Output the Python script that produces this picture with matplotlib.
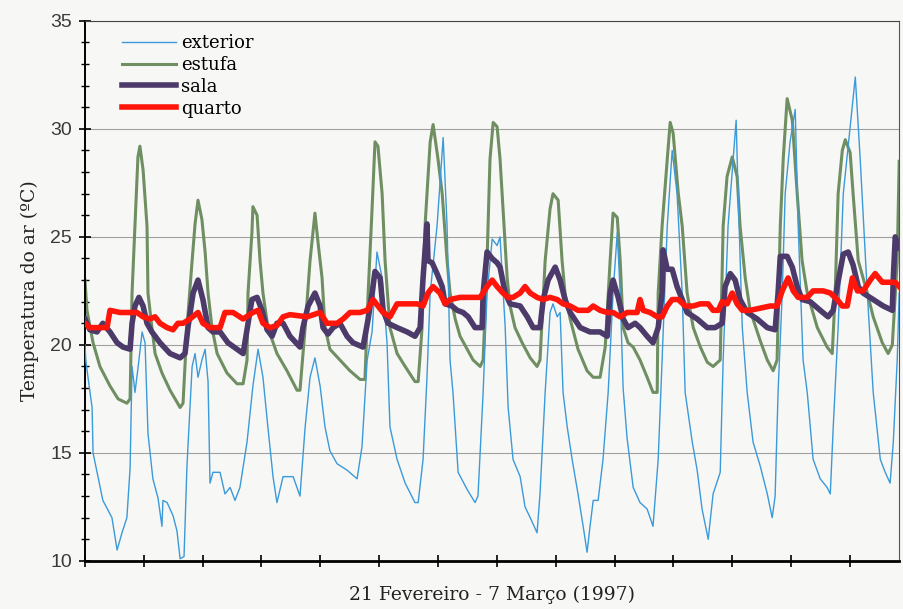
#!/usr/bin/env python3
"""
plot.py
Temperatura do ar: exterior, estufa, sala e quarto (21 Fev - 7 Mar 1997).
"""

import matplotlib.pyplot as plt
from matplotlib.ticker import MultipleLocator, NullFormatter

# -----------------------------
# Data (hours since start, degC)
# -----------------------------
ext_h = [0, 0.4, 2.9, 3.3, 7.3, 11.0, 13.1, 15.1, 17.1, 18.4, 19.2, 20.4, 21.6, 23.3, 24.5, 25.7,
         27.7, 29.8, 31.4, 31.8, 33.5, 35.9, 37.5, 38.8, 40.4, 41.6, 43.7, 44.9, 46.1, 47.7, 49.0,
         50.2, 51.0, 52.2, 55.1, 57.1, 59.2, 61.2, 63.2, 66.1, 68.5, 70.6, 72.6, 74.6, 76.7, 78.3,
         80.8, 84.9, 87.7, 89.8, 91.8, 93.8, 95.9, 97.9, 99.9, 102.8, 106.9, 111.0, 113.0, 115.1,
         117.1, 119.1, 121.2, 123.2, 124.4, 127.3, 130.6, 134.6, 135.9, 137.9, 139.5, 140.8, 143.6,
         146.1, 147.7, 148.9, 150.1, 152.2, 155.9, 159.1, 160.3, 162.4, 164.0, 166.1, 168.1, 169.3,
         171.4, 172.6, 174.6, 177.5, 179.5, 181.6, 184.4, 185.6, 187.7, 189.7, 190.9, 192.6, 193.8,
         195.0, 196.7, 198.7, 201.1, 203.2, 204.8, 206.0, 207.3, 209.3, 211.3, 213.4, 215.4, 217.1,
         218.3, 219.5, 221.1, 223.6, 226.4, 229.3, 231.7, 233.8, 235.4, 237.5, 239.5, 241.5, 243.6,
         244.8, 247.7, 249.7, 251.7, 254.2, 256.2, 259.1, 260.3, 262.3, 264.4, 265.6, 266.4, 268.1,
         270.1, 272.5, 275.4, 278.3, 280.3, 281.5, 282.7, 284.4, 285.6, 287.6, 289.7, 290.9, 292.9,
         294.6, 297.0, 299.9, 302.7, 304.0, 305.2, 307.2, 309.3, 312.1, 314.2, 316.2, 319.1, 321.5,
         324.4, 326.4, 328.4, 329.7, 331.3, 332.1]
ext_t = [20.0, 19.2, 17.1, 15.0, 12.8, 12.0, 10.5, 11.3, 12.0, 14.3, 19.0, 17.8, 18.9, 20.6, 20.1, 15.9,
         13.8, 12.9, 11.6, 12.8, 12.7, 12.1, 11.4, 10.1, 10.2, 14.4, 19.0, 19.6, 18.5, 19.3, 19.8,
         18.3, 13.6, 14.1, 14.1, 13.1, 13.4, 12.8, 13.4, 15.5, 18.1, 19.8, 18.5, 16.2, 13.9, 12.7,
         13.9, 13.9, 13.0, 16.2, 18.5, 19.4, 18.1, 16.2, 15.1, 14.5, 14.2, 13.8, 15.3, 19.3,
         20.6, 24.3, 23.1, 20.1, 16.2, 14.7, 13.6, 12.7, 12.7, 14.7, 18.5, 22.4, 25.5,
         29.6, 25.5, 19.3, 17.8, 14.1, 13.3, 12.7, 13.0, 17.8, 22.4, 24.9, 24.6, 25.0,
         20.8, 17.1, 14.7, 13.9, 12.5, 12.0, 11.3, 13.1, 17.8, 21.5, 21.9, 21.3, 21.5,
         17.8, 16.2, 14.7, 13.1, 11.6, 10.4, 11.6, 12.8, 12.8, 14.7, 17.8, 22.4, 25.2,
         22.4, 18.0, 15.7, 13.4, 12.7, 12.4, 11.6, 14.7, 19.3, 25.5, 29.0, 27.0, 22.4,
         17.8, 15.5, 14.2, 12.4, 11.0, 13.1, 14.1, 19.3, 25.5, 28.6, 30.4, 27.0, 20.8,
         17.8, 15.5, 14.4, 13.1, 12.0, 13.0, 17.8, 22.4, 27.0, 29.4, 30.9, 25.5, 19.3,
         17.8, 14.7, 13.8, 13.4, 13.1, 16.2, 20.8, 27.0, 30.1, 32.4, 28.6, 22.4, 17.8,
         14.7, 14.1, 13.6, 15.5, 19.3, 22.4]

est_h = [0, 0.8, 3.3, 6.1, 10.2, 13.5, 17.1, 18.4, 19.2, 20.4, 21.6, 22.4, 23.7, 25.3, 25.7, 27.3,
         28.6, 31.4, 34.7, 38.8, 40.0, 41.6, 43.7, 44.9, 46.1, 47.7, 49.0, 50.2, 51.8, 53.9, 57.9,
         62.0, 64.5, 66.1, 66.5, 68.1, 68.5, 70.2, 71.4, 72.6, 74.6, 78.3, 82.4, 86.5, 87.7, 89.8,
         91.8, 93.8, 95.1, 96.7, 97.9, 99.9, 104.0, 108.1, 112.2, 114.2, 115.5, 117.1, 118.3, 119.5,
         121.2, 122.4, 124.4, 127.3, 130.6, 134.6, 135.9, 137.5, 138.7, 140.8, 142.0, 144.0, 145.7,
         147.7, 148.9, 151.0, 153.0, 155.9, 158.3, 161.2, 162.4, 164.0, 165.2, 166.5, 168.1, 169.3,
         170.5, 172.2, 173.4, 175.4, 178.3, 181.6, 184.4, 185.6, 187.7, 189.7, 190.9, 193.0, 194.6,
         195.8, 197.9, 201.1, 204.8, 207.3, 210.1, 212.2, 214.2, 215.4, 217.1, 218.3, 219.5, 221.5,
         223.6, 226.4, 229.3, 231.7, 233.4, 233.8, 235.4, 237.5, 238.7, 239.9, 242.0, 243.6, 245.6,
         248.1, 251.0, 253.8, 256.2, 259.1, 260.3, 261.9, 264.0, 266.0, 267.2, 269.3, 271.3, 275.4,
         278.3, 280.7, 282.3, 283.6, 284.8, 286.4, 288.5, 290.5, 292.5, 294.6, 298.7, 302.7, 304.8,
         306.0, 307.2, 308.9, 310.1, 312.1, 313.3, 315.4, 319.1, 321.5, 325.2, 327.6, 329.3, 331.3,
         332.1]
est_t = [23.0, 21.6, 20.1, 19.0, 18.1, 17.5, 17.3, 17.5, 22.4, 25.5, 28.7, 29.2, 28.1, 25.5, 22.4, 20.8,
         19.6, 18.7, 17.9, 17.1, 17.3, 20.8, 23.9, 25.6, 26.7, 25.8, 24.3, 22.4, 20.8, 19.6, 18.7,
         18.2, 18.2, 19.3, 22.4, 25.2, 26.4, 26.0, 23.9, 22.4, 20.8, 19.6, 18.8, 17.9, 17.9, 20.8,
         23.9, 26.1, 24.7, 23.1, 20.8, 19.8, 19.3, 18.8, 18.4, 18.4, 22.4, 26.3, 29.4, 29.2,
         27.0, 23.9, 20.8, 19.6, 19.0, 18.3, 18.3, 20.8, 25.5, 29.4, 30.2, 28.6, 27.0,
         23.9, 22.4, 21.2, 20.4, 19.8, 19.3, 19.0, 19.3, 23.9, 28.6, 30.3, 30.1, 28.6,
         26.3, 23.1, 21.8, 20.8, 20.1, 19.4, 19.0, 19.3, 23.9, 26.3, 27.0, 26.7, 23.9,
         22.4, 21.2, 19.8, 18.8, 18.5, 18.5, 19.9, 23.9, 26.1, 25.9, 23.9, 20.8, 20.1,
         19.9, 19.3, 18.5, 17.8, 17.8, 22.4, 25.5, 28.6, 30.3, 29.8, 27.0, 25.5, 22.4,
         20.8, 19.9, 19.2, 19.0, 19.3, 25.5, 27.8, 28.7, 27.8, 25.5, 23.1, 21.6, 20.2,
         19.3, 18.8, 19.3, 25.5, 28.6, 31.4, 30.4, 27.0, 23.9, 22.4, 20.8, 19.9, 19.6,
         22.4, 27.0, 29.0, 29.5, 28.9, 27.0, 23.9, 22.4, 21.3, 20.1, 19.6, 20.0, 23.9,
         28.5]

sala_h = [0, 2.0, 4.9, 7.3, 10.2, 13.1, 15.5, 18.4, 19.2, 20.4, 22.0, 23.7, 25.3, 27.3, 30.6, 34.7,
          38.8, 40.8, 42.0, 44.1, 46.1, 48.1, 50.2, 52.2, 55.1, 58.3, 62.0, 64.5, 66.5, 68.1, 70.2,
          72.2, 74.3, 76.3, 78.3, 80.8, 83.6, 87.7, 88.9, 91.0, 93.8, 95.9, 97.1, 99.1, 101.2, 104.0,
          106.9, 109.3, 113.4, 115.5, 117.1, 118.3, 120.4, 121.6, 123.6, 127.3, 131.4, 134.6, 136.7,
          137.9, 139.5, 139.9, 141.6, 143.6, 145.7, 146.9, 149.7, 151.8, 154.2, 156.3, 159.1, 162.0,
          162.4, 164.0, 166.1, 168.1, 169.3, 171.4, 173.4, 177.5, 180.4, 182.8, 185.6, 186.9, 188.9,
          191.8, 193.8, 195.8, 197.9, 202.0, 206.0, 210.1, 213.0, 214.2, 215.4, 217.5, 219.5, 221.5,
          224.4, 226.4, 229.3, 231.7, 233.8, 235.4, 235.8, 237.5, 239.5, 241.5, 243.6, 245.6, 249.7,
          253.8, 257.0, 259.9, 261.1, 263.2, 265.2, 267.2, 270.1, 274.2, 278.3, 281.5, 282.7, 283.6,
          286.4, 288.5, 290.5, 292.5, 295.8, 299.9, 303.1, 305.2, 306.8, 309.3, 311.3, 313.3, 315.4,
          317.4, 321.5, 325.6, 329.3, 329.7, 330.5, 332.1]
sala_t = [21.2, 20.7, 20.6, 21.0, 20.6, 20.1, 19.9, 19.8, 21.0, 21.8, 22.2, 21.8, 21.0, 20.6, 20.1, 19.6,
          19.4, 19.6, 20.8, 22.4, 23.0, 22.1, 20.8, 20.6, 20.6, 20.1, 19.8, 19.6, 21.0, 22.1, 22.2,
          21.6, 20.7, 20.4, 21.0, 21.0, 20.4, 19.9, 20.8, 21.8, 22.4, 21.8, 20.8, 20.5, 20.8, 21.0,
          20.4, 20.1, 19.9, 21.2, 22.4, 23.4, 23.1, 21.6, 21.0, 20.8, 20.6, 20.4, 20.8,
          23.1, 25.6, 23.9, 23.8, 23.3, 22.7, 21.9, 21.8, 21.6, 21.5, 21.3, 20.8, 20.8,
          22.4, 24.3, 24.0, 23.8, 23.6, 22.4, 21.9, 21.8, 21.3, 20.8, 20.8, 22.1, 23.0,
          23.6, 23.0, 22.1, 21.5, 20.8, 20.6, 20.6, 20.4, 22.4, 23.0, 22.2, 21.2, 20.8,
          21.0, 20.8, 20.4, 20.1, 20.8, 22.4, 24.4, 23.5, 23.5, 22.7, 22.1, 21.5, 21.2,
          20.8, 20.8, 21.0, 22.7, 23.3, 23.0, 22.1, 21.5, 21.2, 20.8, 20.7, 22.4, 24.1,
          24.1, 23.6, 22.7, 22.1, 22.0, 21.6, 21.3, 21.6, 22.7, 24.2, 24.3, 23.7, 22.7,
          22.4, 22.1, 21.8, 21.6, 23.1, 25.0, 24.5]

quarto_h = [0, 2.0, 9.0, 10.2, 14.3, 18.4, 21.2, 23.7, 26.5, 28.6, 30.6, 33.5, 35.9, 37.9, 40.0, 42.8,
            46.1, 48.1, 51.0, 55.1, 57.1, 60.4, 64.5, 68.5, 70.6, 72.6, 75.5, 78.3, 80.8, 83.6, 90.6,
            95.9, 98.7, 102.8, 105.3, 108.1, 112.2, 115.1, 117.5, 119.5, 121.6, 124.4, 127.3, 130.6,
            135.5, 137.9, 139.9, 142.0, 144.8, 146.9, 148.9, 153.0, 157.1, 161.2, 164.0, 166.1, 168.1,
            170.5, 172.6, 174.6, 177.5, 179.5, 181.6, 184.4, 186.9, 189.7, 192.6, 195.0, 197.9, 201.1,
            205.2, 207.3, 210.1, 213.0, 215.4, 218.3, 221.1, 225.2, 226.4, 227.7, 230.5, 233.4, 235.4,
            237.5, 239.5, 242.0, 244.8, 248.1, 251.0, 254.2, 256.2, 258.3, 259.9, 261.9, 264.0, 266.0,
            268.1, 271.3, 275.4, 279.5, 282.3, 284.4, 286.8, 288.9, 290.9, 294.6, 297.0, 301.1, 304.0,
            306.8, 308.9, 310.9, 313.0, 315.1, 317.4, 320.3, 322.3, 325.2, 327.6, 330.5, 332.1]
quarto_t = [21.0, 20.8, 20.8, 21.6, 21.5, 21.5, 21.5, 21.3, 21.2, 21.3, 21.0, 20.8, 20.7, 21.0, 21.0, 21.2,
            21.5, 21.0, 20.8, 20.8, 21.5, 21.5, 21.2, 21.5, 21.6, 21.0, 20.8, 20.9, 21.3, 21.4, 21.3,
            21.5, 21.0, 21.0, 21.2, 21.5, 21.5, 21.6, 22.1, 21.8, 21.5, 21.3, 21.9, 21.9,
            21.9, 21.8, 22.4, 22.7, 22.4, 21.9, 22.1, 22.2, 22.2, 22.2, 22.7, 23.0, 22.7,
            22.4, 22.2, 22.2, 22.4, 22.7, 22.4, 22.2, 22.1, 22.2, 22.1, 21.9, 21.8, 21.6,
            21.6, 21.8, 21.6, 21.5, 21.5, 21.3, 21.5, 21.5, 22.1, 21.6, 21.5, 21.3, 21.3,
            21.8, 22.1, 22.1, 21.8, 21.8, 21.9, 21.9, 21.6, 21.6, 22.0, 21.9, 22.4, 21.9,
            21.6, 21.6, 21.7, 21.8, 21.8, 22.5, 23.1, 22.5, 22.2, 22.2, 22.5, 22.5, 22.4,
            22.1, 21.8, 21.8, 23.1, 22.5, 22.5, 23.0, 23.3, 22.9, 22.9, 22.9, 22.7]

# -----------------------------
# Figure
# -----------------------------
bg = "#f7f7f5"
fig = plt.figure(figsize=(9.04, 6.09), dpi=100, facecolor=bg)
ax = fig.add_axes([0.094, 0.079, 0.9004, 0.8867], facecolor=bg)

ax.plot(est_h, est_t, color="#6f8f62", lw=2.2, label="estufa", zorder=2)
ax.plot(ext_h, ext_t, color="#3b9ad9", lw=1.0, label="exterior", zorder=3)
ax.plot(sala_h, sala_t, color="#4b3a6a", lw=4.0, label="sala", zorder=4)
ax.plot(quarto_h, quarto_t, color="#ff150a", lw=4.0, label="quarto", zorder=5)

ax.set_xlim(0, 332)
ax.set_ylim(10, 35)
ax.xaxis.set_major_locator(MultipleLocator(24))
ax.xaxis.set_major_formatter(NullFormatter())
ax.yaxis.set_major_locator(MultipleLocator(5))
ax.yaxis.set_minor_locator(MultipleLocator(1))
ax.tick_params(axis="x", direction="inout", length=9, width=1.2, color="black")
ax.tick_params(axis="y", which="major", direction="inout", length=9, width=1.2,
               labelsize=14, labelcolor="#3a3a3a", pad=5)
ax.tick_params(axis="y", which="minor", direction="inout", length=6, width=1.0)
for lab in ax.get_yticklabels():
    lab.set_family("Liberation Sans")

ax.grid(axis="y", color="#a0a0a0", lw=0.8)
ax.spines["left"].set_linewidth(1.4)
ax.spines["bottom"].set_linewidth(2.0)
ax.spines["top"].set_color("#444444")
ax.spines["right"].set_color("#555555")

ax.set_ylabel("Temperatura do ar (ºC)", family="DejaVu Serif", fontsize=13.5, labelpad=8,
              color="#222222")
ax.set_xlabel("21 Fevereiro - 7 Março (1997)", family="DejaVu Serif", fontsize=13.5, labelpad=10,
              color="#222222")

# legend in the order of the original
handles, labels = ax.get_legend_handles_labels()
order = [1, 0, 2, 3]
ax.legend([handles[i] for i in order], [labels[i] for i in order],
          loc="upper left", bbox_to_anchor=(0.045, 0.976), borderaxespad=0, borderpad=0,
          frameon=False, handlelength=3.0, handletextpad=0.3, labelspacing=0.22,
          prop={"family": "DejaVu Serif", "size": 13})

plt.savefig("out.png", dpi=100, facecolor=bg)
plt.close()
